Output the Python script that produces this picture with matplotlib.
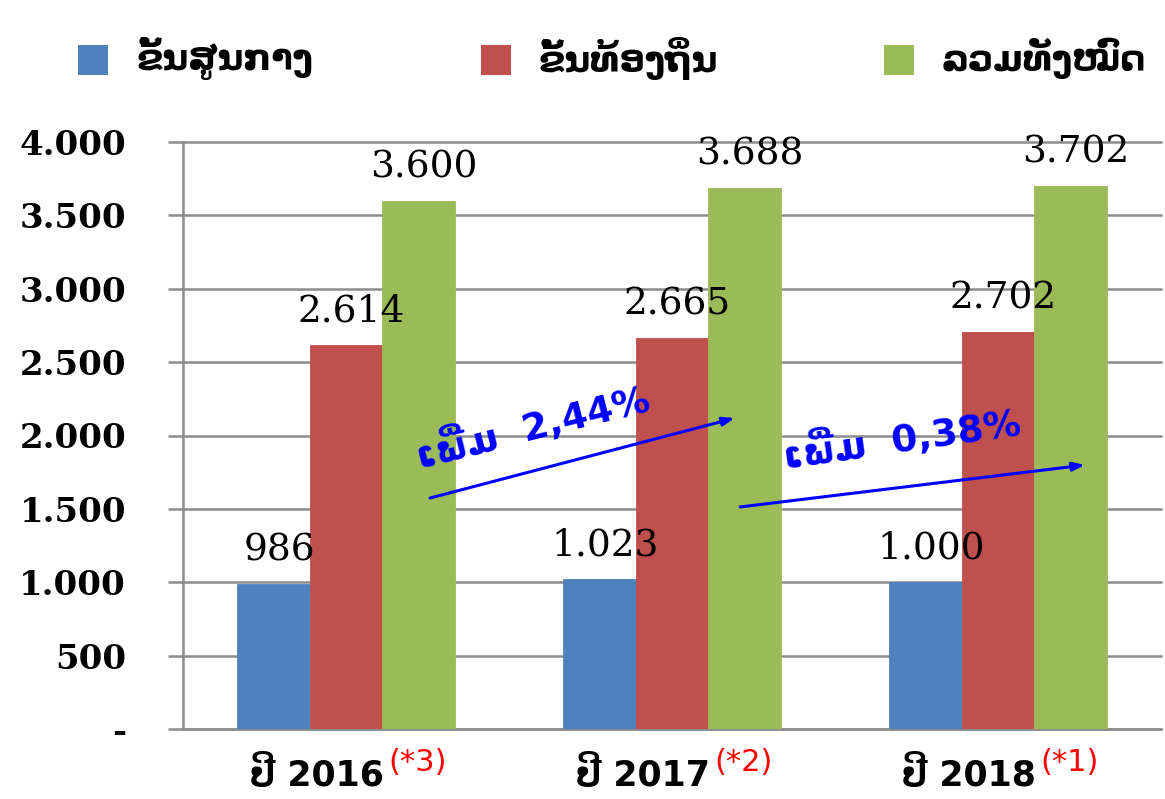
import matplotlib
matplotlib.use("Agg")
import matplotlib.pyplot as plt
from matplotlib.patches import Rectangle

# ---- data ----
categories = ["ປີ 2016", "ປີ 2017", "ປີ 2018"]
cat_notes = ["(*3)", "(*2)", "(*1)"]
series_names = ["ຂັ້ນສູນກາງ", "ຂັ້ນທ້ອງຖິ່ນ", "ລວມທັງໝົດ"]
central = [986, 1023, 1000]
local = [2614, 2665, 2702]
total = [3600, 3688, 3702]
value_labels = [["986", "1.023", "1.000"],
                ["2.614", "2.665", "2.702"],
                ["3.600", "3.688", "3.702"]]
yticks = [0, 500, 1000, 1500, 2000, 2500, 3000, 3500, 4000]
ytick_labels = ["-", "500", "1.000", "1.500", "2.000", "2.500", "3.000", "3.500", "4.000"]
growth_labels = ["ເພີ່ມ  2,44%", "ເພີ່ມ  0,38%"]

colors = ["#4F81BD", "#C0504D", "#9BBB59"]
grid_col = "#8C8C8C"

W, H = 1165, 799
fig = plt.figure(figsize=(W / 100, H / 100), dpi=100)
ax = fig.add_axes([183 / W, 1 - 729 / H, (1161 - 183) / W, (729 - 142) / H])

series = [central, local, total]
bw = 0.2225
x = list(range(len(categories)))
for k, vals in enumerate(series):
    pos = [i + (k - 1) * bw for i in x]
    bars = ax.bar(pos, vals, width=bw, color=colors[k], edgecolor=colors[k],
                  linewidth=0.6, zorder=3)
    for b, lab in zip(bars, value_labels[k]):
        ax.annotate(lab, (b.get_x() + b.get_width() / 2, b.get_height()),
                    xytext=(4, 17), textcoords="offset points",
                    ha="center", va="baseline", fontsize=27,
                    family="DejaVu Serif", color="black", zorder=5,
                    annotation_clip=False)

ax.set_xlim(-0.5, 2.5)
ax.set_ylim(0, 4000)
ax.set_yticks(yticks)
ax.set_yticklabels(ytick_labels, family="DejaVu Serif", fontweight="bold", fontsize=24.5)
ax.tick_params(axis="y", direction="out", length=11, width=1.8, color=grid_col, pad=30)
ax.set_xticks([])
ax.yaxis.grid(True, color=grid_col, linewidth=1.8, zorder=0)
for g in ax.yaxis.get_gridlines():
    g.set_clip_on(False)
ax.set_axisbelow(True)
for s in ["top", "right"]:
    ax.spines[s].set_visible(False)
for s in ["left", "bottom"]:
    ax.spines[s].set_color(grid_col)
    ax.spines[s].set_linewidth(1.8)

# category labels with red superscripts
for i, (c, n) in enumerate(zip(categories, cat_notes)):
    main = ax.annotate(c, (i, 0), xytext=(-21, -20), textcoords="offset points",
                       ha="center", va="top", fontsize=25, fontweight="bold",
                       family="DejaVu Sans", color="black", annotation_clip=False)
    ax.annotate(n, xy=(1, 1), xycoords=main, xytext=(3, 6),
                textcoords="offset points", ha="left", va="top",
                fontsize=22, family="DejaVu Sans", color="#FF0000",
                annotation_clip=False)

# growth arrows and texts
arrows = [((0.258, 1574), (1.193, 2119)), ((1.209, 1513), (2.267, 1799))]
text_pos = [((0.574, 2060), 14), ((1.706, 1975), 8)]
for (st, en), lab, (tp, rot) in zip(arrows, growth_labels, text_pos):
    ax.annotate("", xy=en, xytext=st,
                arrowprops=dict(arrowstyle="-|>,head_length=0.7,head_width=0.25",
                                color="#0000FF", lw=2.2, shrinkA=0, shrinkB=0),
                zorder=6, annotation_clip=False)
    ax.text(tp[0], tp[1], lab, rotation=rot, rotation_mode="anchor",
            ha="center", va="center", fontsize=27, fontweight="bold",
            family="DejaVu Sans", color="#0000FF", zorder=6)

# legend (three equally spaced columns)
leg_x = [78, 481, 884]
for k in range(3):
    fig.patches.append(Rectangle((leg_x[k] / W, 1 - 75 / H), 30 / W, 30 / H,
                                 transform=fig.transFigure, facecolor=colors[k],
                                 edgecolor="none"))
    fig.text((leg_x[k] + 58) / W, 1 - 58 / H, series_names[k], fontsize=25.5,
             fontweight="bold", family="DejaVu Sans", va="center", ha="left")

fig.savefig("out.png", dpi=100)
